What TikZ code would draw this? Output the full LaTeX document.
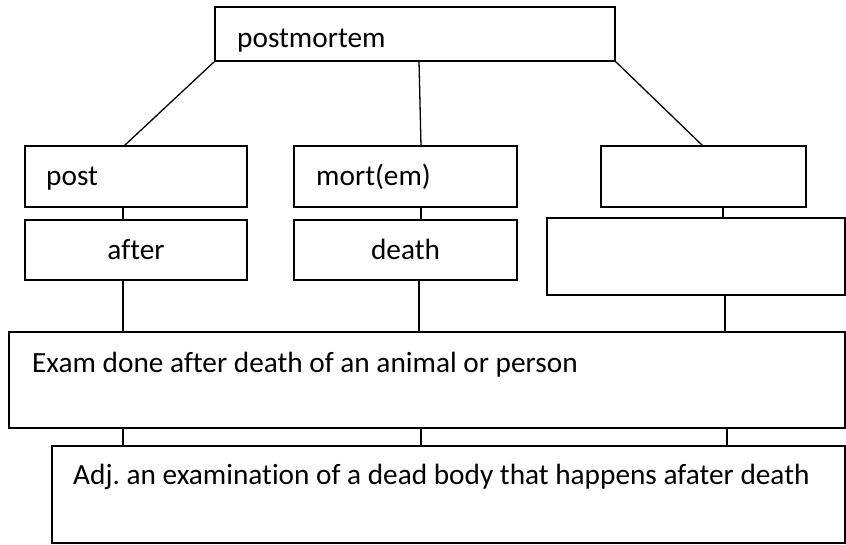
\documentclass[tikz,border=0pt]{standalone}
\usepackage{fontspec}
\setmainfont{Carlito}[Ligatures=NoCommon]
\frenchspacing
\begin{document}
\begin{tikzpicture}[x=1pt,y=-1pt,
  box/.style={draw=black, line width=1.3pt, rectangle, outer sep=0pt, inner sep=0pt},
  conn/.style={draw=black, line width=1.3pt},
  txt/.style={anchor=base west, inner sep=0pt, font=\fontsize{29.3}{35}\selectfont},
  ctxt/.style={anchor=base, inner sep=0pt, font=\fontsize{29.3}{35}\selectfont}]
\useasboundingbox (0,0) rectangle (846,544);
% boxes
\node[box, minimum width=400pt, minimum height=54pt] (top) at (415,34) {};
\node[box, minimum width=222pt, minimum height=61pt] (post) at (136,176.5) {};
\node[box, minimum width=222pt, minimum height=60pt] (after) at (136,250) {};
\node[box, minimum width=223pt, minimum height=61pt] (mort) at (405.5,176.5) {};
\node[box, minimum width=223pt, minimum height=60pt] (death) at (405.5,250) {};
\node[box, minimum width=205pt, minimum height=61pt] (r1) at (703.5,176.5) {};
\node[box, minimum width=298pt, minimum height=77pt] (r2) at (696,256.5) {};
\node[box, minimum width=836pt, minimum height=96pt] (exam) at (427,380) {};
\node[box, minimum width=793pt, minimum height=97pt] (adj) at (448.5,494.5) {};
% texts
\node[txt] (tpm) at (237,47) {postmortem};
\node[txt] (tpost) at (46,185) {post};
\node[ctxt] (tafter) at (136,259) {after};
\node[txt] (tmort) at (316,185) {mort(em)};
\node[ctxt] (tdeath) at (405.5,259) {death};
\node[txt] (texam) at (32,372) {Exam done after death of an animal or person};
\node[txt] (tadj) at (73,484) {Adj. an examination of a dead body that happens afater death};
% connectors
\draw[conn] (top.south west) -- (124,0 |- post.north);
\draw[conn] (419,0 |- top.south) -- (421,0 |- mort.north);
\draw[conn] (top.south east) -- (703,0 |- r1.north);
\draw[conn] (123,0 |- post.south) -- (123,0 |- after.north);
\draw[conn] (421,0 |- mort.south) -- (421,0 |- death.north);
\draw[conn] (723,0 |- r1.south) -- (723,0 |- r2.north);
\draw[conn] (123,0 |- after.south) -- (123,0 |- exam.north);
\draw[conn] (419,0 |- death.south) -- (419,0 |- exam.north);
\draw[conn] (725,0 |- r2.south) -- (725,0 |- exam.north);
\draw[conn] (123,0 |- exam.south) -- (123,0 |- adj.north);
\draw[conn] (421,0 |- exam.south) -- (421,0 |- adj.north);
\draw[conn] (727,0 |- exam.south) -- (727,0 |- adj.north);
\end{tikzpicture}
\end{document}
